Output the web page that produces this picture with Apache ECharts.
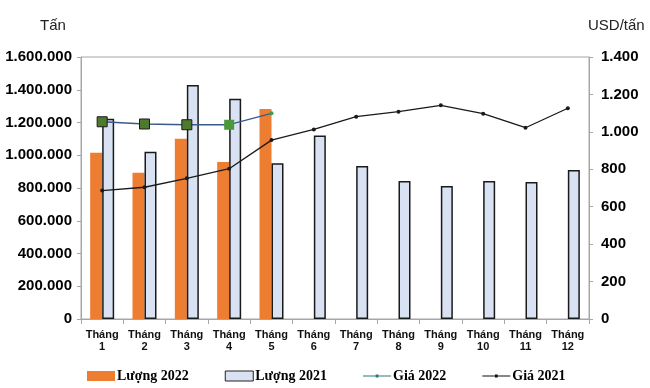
<!DOCTYPE html>
<html><head><meta charset="utf-8">
<script src="https://cdn.jsdelivr.net/npm/echarts@6/dist/echarts.min.js"></script>
<style>html,body{margin:0;padding:0;background:#fff}#c{width:650px;height:388px}</style>
</head><body><div id="c"></div>
<script>
const categories = ['Tháng\n1','Tháng\n2','Tháng\n3','Tháng\n4','Tháng\n5','Tháng\n6','Tháng\n7','Tháng\n8','Tháng\n9','Tháng\n10','Tháng\n11','Tháng\n12'];
const luong2022 = [1015000, 893000, 1101000, 959000, 1282000, null, null, null, null, null, null, null];
const luong2021 = [1223000, 1022000, 1429000, 1345000, 951000, 1120000, 934000, 843000, 812000, 843000, 837000, 910000];
const gia2022 = [1054, 1042, 1038, 1038, 1099, null, null, null, null, null, null, null];
const gia2021 = [686, 704, 752, 803, 956, 1013, 1081, 1108, 1142, 1097, 1022, 1126];
const leftTicks = {min: 0, max: 1600000, interval: 200000};
const rightTicks = {min: 0, max: 1400, interval: 200};

function dots(v){ return String(v).replace(/\B(?=(\d{3})+(?!\d))/g, '.'); }

const chart = echarts.init(document.getElementById('c'), null, {renderer: 'canvas'});
const axisLabelFont = {fontFamily: 'Liberation Sans, Arial', fontWeight: 'bold', fontSize: 15, color: '#000'};
const gia2022Data = gia2022.map((v, i) => {
  if (i < 3) return {value: v, symbol: 'rect', symbolSize: 10, itemStyle: {color: '#4e7a2e', borderColor: '#1a1a1a', borderWidth: 1}};
  if (i === 3) return {value: v, symbol: 'rect', symbolSize: 10, itemStyle: {color: '#4a9a3c', borderWidth: 0}};
  return {value: v, symbol: 'circle', symbolSize: 4, itemStyle: {color: '#3aa04a', borderWidth: 0}};
});
const lineIcon = 'path://M0,4.4L30,4.4L30,5.6L0,5.6Z M13.5,3.5L16.5,3.5L16.5,6.5L13.5,6.5Z';
chart.setOption({
  animation: false,
  grid: {left: 81, right: 61, top: 57, bottom: 69, show: true, borderColor: '#a6a6a6', borderWidth: 1},
  graphic: [
    {type: 'text', left: 40, top: 18, style: {text: 'Tấn', font: '15px Liberation Sans, Arial', fill: '#222'}},
    {type: 'text', left: 588, top: 18, style: {text: 'USD/tấn', font: '15px Liberation Sans, Arial', fill: '#222'}}
  ],
  legend: {
    bottom: 0, left: 82, itemGap: 36, itemWidth: 28, itemHeight: 10,
    textStyle: {fontFamily: 'Liberation Serif, Times New Roman', fontWeight: 'bold', fontSize: 14, color: '#000', padding: [0,0,0,-3]},
    data: [
      {name: 'Lượng 2022', icon: 'rect', itemStyle: {color: '#ED7D31', borderWidth: 0}},
      {name: 'Lượng 2021', icon: 'rect', itemStyle: {color: '#D9E2F3', borderColor: '#222', borderWidth: 1}},
      {name: 'Giá 2022', icon: lineIcon, itemStyle: {color: '#2e7b74', borderWidth: 0}},
      {name: 'Giá 2021', icon: lineIcon, itemStyle: {color: '#111', borderWidth: 0}}
    ]
  },
  xAxis: {
    type: 'category', data: categories, boundaryGap: true,
    axisLine: {lineStyle: {color: '#a6a6a6'}},
    axisTick: {show: true, length: 5, lineStyle: {color: '#a6a6a6'}},
    axisLabel: {fontFamily: 'Liberation Sans, Arial', fontWeight: 'bold', fontSize: 11, color: '#111', lineHeight: 12, margin: 10, interval: 0}
  },
  yAxis: [
    {type: 'value', min: leftTicks.min, max: leftTicks.max, interval: leftTicks.interval,
     axisLine: {show: true, lineStyle: {color: '#a6a6a6'}}, axisTick: {show: true, length: 4, lineStyle: {color: '#a6a6a6'}},
     splitLine: {show: false}, axisLabel: Object.assign({formatter: v => dots(v), margin: 9}, axisLabelFont)},
    {type: 'value', min: rightTicks.min, max: rightTicks.max, interval: rightTicks.interval, position: 'right',
     axisLine: {show: true, lineStyle: {color: '#a6a6a6'}}, axisTick: {show: true, length: 4, lineStyle: {color: '#a6a6a6'}},
     splitLine: {show: false}, axisLabel: Object.assign({formatter: v => dots(v), margin: 12}, axisLabelFont)}
  ],
  series: [
    {name: 'Lượng 2022', type: 'bar', data: luong2022, barWidth: 12, barGap: '0%', itemStyle: {color: '#ED7D31'}},
    {name: 'Lượng 2021', type: 'bar', data: luong2021, barWidth: 12, barGap: '0%', itemStyle: {color: '#D9E2F3', borderColor: '#1a1a1a', borderWidth: 1.5}},
    {name: 'Giá 2022', type: 'line', yAxisIndex: 1, data: gia2022Data, lineStyle: {color: '#3a5a8c', width: 1.3}, itemStyle: {color: '#4e7a2e'}, z: 5},
    {name: 'Giá 2021', type: 'line', yAxisIndex: 1, data: gia2021, symbol: 'circle', symbolSize: 4, lineStyle: {color: '#1a1a1a', width: 1.3}, itemStyle: {color: '#1a1a1a'}, z: 5}
  ]
});
</script></body></html>
